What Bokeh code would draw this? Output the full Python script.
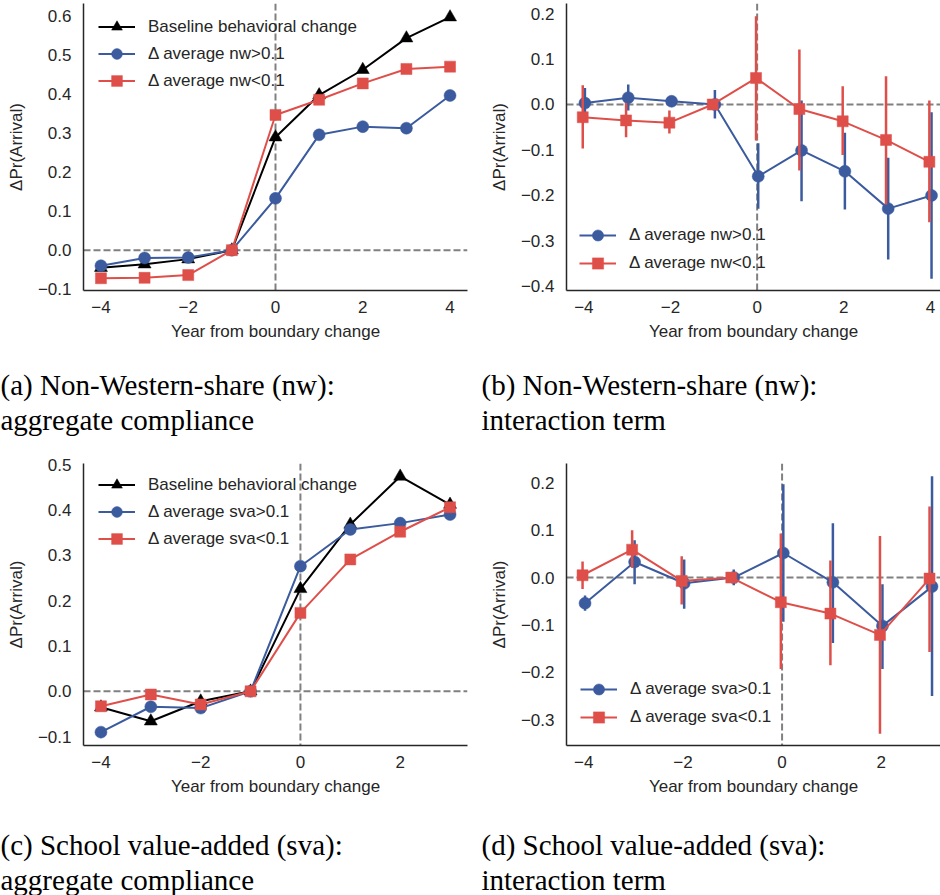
from bokeh.plotting import figure
from bokeh.models import (Range1d, Span, FixedTicker, CustomJSTickFormatter, Legend,
                          LegendItem, Label, ColumnDataSource)
from bokeh.layouts import column, row
from bokeh.embed import file_html
from bokeh.resources import INLINE

# ---------------- data ----------------
years_ab = [-4, -3, -2, -1, 0, 1, 2, 3, 4]
years_cd = [-4, -3, -2, -1, 0, 1, 2, 3]

xticks_ab = [-4, -2, 0, 2, 4]
xticks_cd = [-4, -2, 0, 2]
yticks_a = [-0.1, 0.0, 0.1, 0.2, 0.3, 0.4, 0.5, 0.6]
yticks_b = [-0.4, -0.3, -0.2, -0.1, 0.0, 0.1, 0.2]
yticks_c = [-0.1, 0.0, 0.1, 0.2, 0.3, 0.4, 0.5]
yticks_d = [-0.3, -0.2, -0.1, 0.0, 0.1, 0.2]

# (a) nw aggregate compliance
a_base = [-0.045, -0.036, -0.023, 0.0, 0.290, 0.398, 0.463, 0.544, 0.598]
a_hi = [-0.040, -0.020, -0.019, 0.0, 0.133, 0.296, 0.317, 0.313, 0.397]
a_lo = [-0.072, -0.071, -0.064, 0.0, 0.347, 0.386, 0.428, 0.465, 0.471]

# (b) nw interaction term (point, upper, lower)
b_hi = [0.003, 0.015, 0.007, 0.0, -0.158, -0.101, -0.147, -0.229, -0.200]
b_hi_up = [0.036, 0.044, 0.014, 0.032, -0.085, 0.009, -0.062, -0.117, -0.017]
b_hi_dn = [-0.022, -0.013, 0.000, -0.031, -0.229, -0.213, -0.231, -0.341, -0.383]
b_lo = [-0.028, -0.035, -0.040, 0.0, 0.058, -0.010, -0.037, -0.078, -0.126]
b_lo_up = [0.042, 0.003, -0.013, 0.0, 0.194, 0.121, 0.040, 0.062, 0.009]
b_lo_dn = [-0.097, -0.072, -0.064, 0.0, -0.079, -0.145, -0.111, -0.220, -0.259]

# (c) sva aggregate compliance
c_base = [-0.035, -0.066, -0.022, 0.0, 0.226, 0.368, 0.474, 0.412]
c_hi = [-0.090, -0.034, -0.037, 0.0, 0.276, 0.357, 0.371, 0.390]
c_lo = [-0.033, -0.007, -0.029, 0.0, 0.173, 0.291, 0.352, 0.406]

# (d) sva interaction term
d_hi = [-0.054, 0.033, -0.012, 0.0, 0.052, -0.010, -0.102, -0.019]
d_hi_up = [-0.038, 0.079, 0.038, 0.017, 0.197, 0.115, -0.014, 0.214]
d_hi_dn = [-0.070, -0.014, -0.066, -0.016, -0.093, -0.138, -0.193, -0.250]
d_lo = [0.005, 0.059, -0.007, 0.0, -0.052, -0.076, -0.121, -0.002]
d_lo_up = [0.034, 0.100, 0.045, 0.0, 0.093, 0.036, 0.088, 0.150]
d_lo_dn = [-0.024, 0.021, -0.057, 0.0, -0.193, -0.185, -0.330, -0.157]

captions_top = [["(a) Non-Western-share (nw):", "aggregate compliance"],
                ["(b) Non-Western-share (nw):", "interaction term"]]
captions_bot = [["(c) School value-added (sva):", "aggregate compliance"],
                ["(d) School value-added (sva):", "interaction term"]]

# ---------------- style ----------------
BLACK = "#000000"
BLUE = "#3B5B9E"
RED = "#DF4F4A"
DASH = "#808080"
TXT = "#262626"
SANS = "Liberation Sans"
SERIF = "Liberation Serif"
FS = "17px"
DODGE = 0.025


def base_fig(width, height, xr, yr, mb, xticks, yticks):
    p = figure(width=width, height=height, x_range=Range1d(*xr), y_range=Range1d(*yr),
               toolbar_location=None, output_backend="svg",
               min_border_left=mb[0], min_border_right=mb[1],
               min_border_top=mb[2], min_border_bottom=mb[3])
    p.outline_line_color = None
    p.grid.visible = False
    p.background_fill_color = "white"
    p.border_fill_color = "white"
    p.xaxis.ticker = FixedTicker(ticks=xticks)
    p.yaxis.ticker = FixedTicker(ticks=yticks)
    p.xaxis.formatter = CustomJSTickFormatter(
        code="return (tick < 0 ? '\u2212' : '') + Math.abs(tick).toFixed(0);")
    p.yaxis.formatter = CustomJSTickFormatter(
        code="return (tick < -1e-9 ? '\u2212' : '') + Math.abs(tick).toFixed(1);")
    p.xaxis.axis_label = "Year from boundary change"
    p.yaxis.axis_label = "\u0394Pr(Arrival)"
    for ax in (p.xaxis, p.yaxis):
        ax.axis_line_color = TXT
        ax.axis_line_width = 1.5
        ax.major_tick_out = 0
        ax.major_tick_in = 0
        ax.minor_tick_out = 0
        ax.minor_tick_in = 0
        ax.major_label_text_font = SANS
        ax.major_label_text_font_size = FS
        ax.major_label_text_color = TXT
        ax.axis_label_text_font = SANS
        ax.axis_label_text_font_size = FS
        ax.axis_label_text_font_style = "normal"
        ax.axis_label_text_color = TXT
    p.xaxis.major_label_standoff = 10
    p.xaxis.axis_label_standoff = 6
    p.yaxis.major_label_standoff = 12
    p.yaxis.axis_label_standoff = 9
    p.add_layout(Span(location=0, dimension="width", line_color=DASH, line_width=2,
                      line_dash="7 3", level="underlay"))
    p.add_layout(Span(location=0, dimension="height", line_color=DASH, line_width=2,
                      line_dash="7 3", level="underlay"))
    return p


def add_series(p, xs, ys, color, marker, size, up=None, dn=None):
    src = ColumnDataSource(dict(x=xs, y=ys))
    if up is not None:
        esrc = ColumnDataSource(dict(x=xs, up=up, dn=dn))
        p.segment(x0="x", y0="dn", x1="x", y1="up", source=esrc,
                  line_color=color, line_width=2.5)
    ln = p.line("x", "y", source=src, line_color=color, line_width=2)
    sc = p.scatter("x", "y", source=src, marker=marker, size=size,
                   fill_color=color, line_color=color, line_width=0.5)
    return [ln, sc]


def add_legend(p, items, loc, margin, gh):
    lg = Legend(items=[LegendItem(label=l, renderers=r) for l, r in items],
                location=loc, margin=margin, padding=0, spacing=0,
                glyph_width=37, glyph_height=gh, label_height=gh,
                label_standoff=13, border_line_color=None,
                background_fill_alpha=0,
                label_text_font=SANS, label_text_font_size=FS,
                label_text_color=TXT)
    p.add_layout(lg)


def shift(xs, d):
    return [x + d for x in xs]


# (a)
fa = base_fig(470, 360, (-4.4, 4.4), (-0.1035, 0.633), (83, 3, 3, 70), xticks_ab, yticks_a)
ra0 = add_series(fa, years_ab, a_base, BLACK, "triangle", 13)
ra1 = add_series(fa, years_ab, a_hi, BLUE, "circle", 12)
ra2 = add_series(fa, years_ab, a_lo, RED, "square", 11)
add_legend(fa, [("Baseline behavioral change", ra0), ("\u0394 average nw>0.1", ra1),
                ("\u0394 average nw<0.1", ra2)], (15, 196), 0, 27)

# (b)
fb = base_fig(470, 360, (-4.4, 4.232), (-0.409, 0.222), (96, 0, 3, 70), xticks_ab, yticks_b)
rb1 = add_series(fb, shift(years_ab, DODGE), b_hi, BLUE, "circle", 12, b_hi_up, b_hi_dn)
rb2 = add_series(fb, shift(years_ab, -DODGE), b_lo, RED, "square", 11, b_lo_up, b_lo_dn)
add_legend(fb, [("\u0394 average nw>0.1", rb1), ("\u0394 average nw<0.1", rb2)],
           "bottom_left", 13, 28)

# (c)
fc = base_fig(470, 360, (-4.35, 3.35), (-0.1195, 0.5025), (83, 3, 23, 55), xticks_cd, yticks_c)
rc0 = add_series(fc, years_cd, c_base, BLACK, "triangle", 13)
rc1 = add_series(fc, years_cd, c_hi, BLUE, "circle", 12)
rc2 = add_series(fc, years_cd, c_lo, RED, "square", 11)
add_legend(fc, [("Baseline behavioral change", rc0), ("\u0394 average sva>0.1", rc1),
                ("\u0394 average sva<0.1", rc2)], (15, 193), 0, 27)

# (d)
fd = base_fig(470, 360, (-4.349, 3.196), (-0.3546, 0.241), (96, 0, 17, 55), xticks_cd, yticks_d)
rd1 = add_series(fd, shift(years_cd, DODGE), d_hi, BLUE, "circle", 12, d_hi_up, d_hi_dn)
rd2 = add_series(fd, shift(years_cd, -DODGE), d_lo, RED, "square", 11, d_lo_up, d_lo_dn)
add_legend(fd, [("\u0394 average sva>0.1", rd1), ("\u0394 average sva<0.1", rd2)],
           "bottom_left", 14, 28)


def caption_fig(height, caps, base1, base2):
    c = figure(width=940, height=height, x_range=Range1d(0, 940), y_range=Range1d(height, 0),
               toolbar_location=None, output_backend="svg", min_border=0,
               x_axis_type=None, y_axis_type=None)
    c.outline_line_color = None
    c.grid.visible = False
    for (l1, l2), x0 in zip(caps, (0, 481)):
        c.add_layout(Label(x=x0, y=base1, text=l1, text_font=SERIF, text_font_size="29px",
                           text_baseline="alphabetic", text_color="black"))
        c.add_layout(Label(x=x0, y=base2, text=l2, text_font=SERIF,
                           text_font_size="29px", text_baseline="alphabetic",
                           text_color="black"))
    return c


cap1 = caption_fig(80, captions_top, 24, 59)
cap2 = caption_fig(95, captions_bot, 44, 79)

layout = column(row(fa, fb), cap1, row(fc, fd), cap2)
open("out.html", "w").write(file_html(layout, INLINE))
